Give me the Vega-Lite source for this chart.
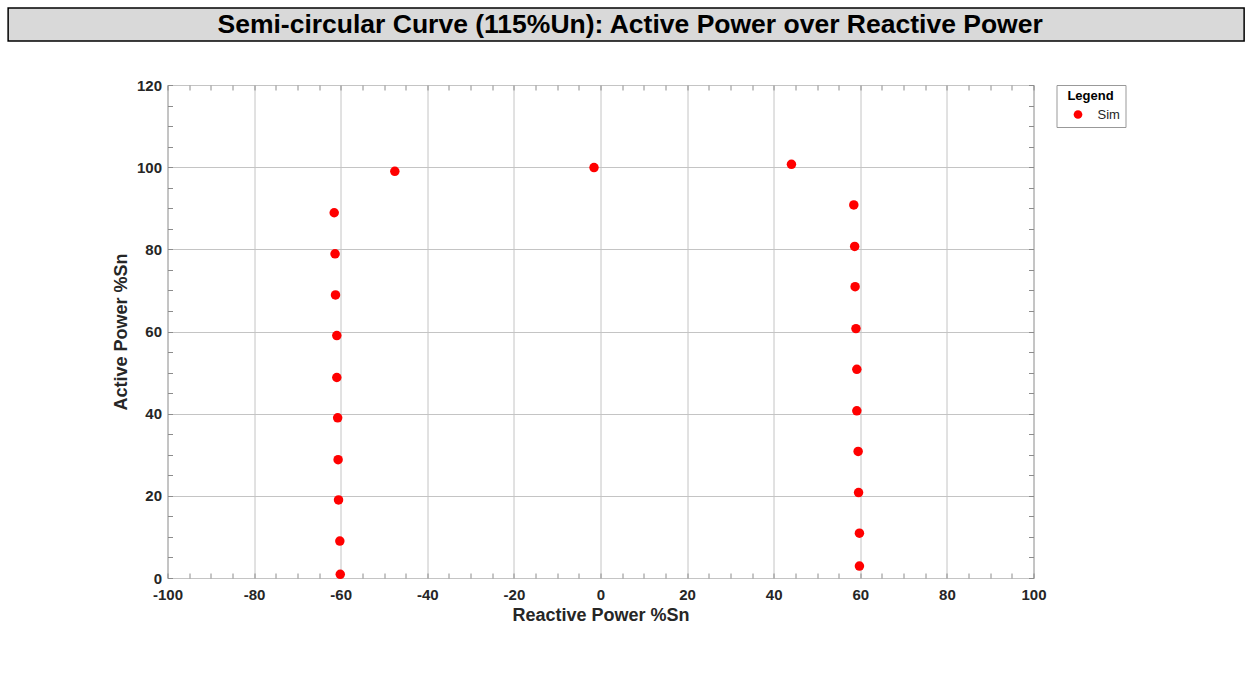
{
  "$schema": "https://vega.github.io/schema/vega-lite/v6.json",
  "padding": {"left": 7, "top": 7, "right": 0, "bottom": 0},
  "background": "white",
  "config": {"font": "Liberation Sans", "view": {"stroke": null}},
  "columns": 1,
  "spacing": 35,
  "center": true,
  "resolve": {"scale": {"color": "independent"}, "legend": {"color": "independent"}},
  "concat": [
    {
      "width": 1236,
      "height": 33,
      "view": {"fill": "#d9d9d9", "stroke": "#000000", "strokeWidth": 1.5},
      "data": {"values": [{"title": "Semi-circular Curve (115%Un): Active Power over Reactive Power"}]},
      "mark": {"type": "text", "font": "Liberation Sans", "fontSize": 26.5, "fontWeight": "bold", "color": "#000000", "baseline": "middle", "align": "center", "dx": 4},
      "encoding": {
        "text": {"field": "title", "type": "nominal"},
        "y": {
          "field": "title", "type": "nominal",
          "axis": {"orient": "right", "title": null, "labels": false, "ticks": false, "domain": false, "grid": false, "minExtent": 41, "maxExtent": 41}
        }
      }
    },
    {
      "width": 866,
      "height": 493,
      "view": {"stroke": "#8c8c8c", "strokeWidth": 1},
      "data": {
        "values": [
          {"q": -61.5, "p": 88.9, "series": "Sim"},
          {"q": -61.3, "p": 78.9, "series": "Sim"},
          {"q": -61.2, "p": 68.9, "series": "Sim"},
          {"q": -60.9, "p": 59.0, "series": "Sim"},
          {"q": -60.9, "p": 48.8, "series": "Sim"},
          {"q": -60.7, "p": 39.0, "series": "Sim"},
          {"q": -60.6, "p": 28.8, "series": "Sim"},
          {"q": -60.5, "p": 19.0, "series": "Sim"},
          {"q": -60.2, "p": 9.0, "series": "Sim"},
          {"q": -60.1, "p": 0.9, "series": "Sim"},
          {"q": -47.5, "p": 99.0, "series": "Sim"},
          {"q": -1.5, "p": 99.9, "series": "Sim"},
          {"q": 44.1, "p": 100.7, "series": "Sim"},
          {"q": 58.5, "p": 90.8, "series": "Sim"},
          {"q": 58.7, "p": 80.7, "series": "Sim"},
          {"q": 58.8, "p": 70.9, "series": "Sim"},
          {"q": 59.0, "p": 60.7, "series": "Sim"},
          {"q": 59.2, "p": 50.8, "series": "Sim"},
          {"q": 59.2, "p": 40.7, "series": "Sim"},
          {"q": 59.5, "p": 30.8, "series": "Sim"},
          {"q": 59.6, "p": 20.8, "series": "Sim"},
          {"q": 59.8, "p": 10.9, "series": "Sim"},
          {"q": 59.8, "p": 2.9, "series": "Sim"}
        ]
      },
      "layer": [
        {
          "mark": {"type": "point", "filled": true, "shape": "circle", "size": 90, "opacity": 1},
          "encoding": {
            "x": {
              "field": "q", "type": "quantitative",
              "scale": {"domain": [-100, 100], "nice": false, "zero": false},
              "axis": {
                "orient": "bottom",
                "title": "Reactive Power %Sn",
                "values": [-100,-95,-90,-85,-80,-75,-70,-65,-60,-55,-50,-45,-40,-35,-30,-25,-20,-15,-10,-5,0,5,10,15,20,25,30,35,40,45,50,55,60,65,70,75,80,85,90,95,100],
                "labelExpr": "datum.value % 20 === 0 ? '' + datum.value : ''",
                "grid": true,
                "gridColor": "#c4c4c4",
                "gridWidth": 1,
                "gridOpacity": {"condition": {"test": "datum.value % 20 === 0", "value": 1}, "value": 0},
                "domain": false,
                "ticks": true,
                "tickSize": -5,
                "tickColor": "#8c8c8c",
                "labelFont": "Liberation Sans",
                "labelFontSize": 15,
                "labelFontWeight": "bold",
                "labelColor": "#262626",
                "labelPadding": 14,
                "labelFlush": false,
                "labelOverlap": false,
                "titleFont": "Liberation Sans",
                "titleFontSize": 18,
                "titleFontWeight": "bold",
                "titleColor": "#262626",
                "titlePadding": 4
              }
            },
            "y": {
              "field": "p", "type": "quantitative",
              "scale": {"domain": [0, 120], "nice": false, "zero": false},
              "axis": {
                "orient": "left",
                "title": "Active Power %Sn",
                "values": [0,5,10,15,20,25,30,35,40,45,50,55,60,65,70,75,80,85,90,95,100,105,110,115,120],
                "labelExpr": "datum.value % 20 === 0 ? '' + datum.value : ''",
                "grid": true,
                "gridColor": "#c4c4c4",
                "gridWidth": 1,
                "gridOpacity": {"condition": {"test": "datum.value % 20 === 0", "value": 1}, "value": 0},
                "domain": false,
                "ticks": true,
                "tickSize": -5,
                "tickColor": "#8c8c8c",
                "labelFont": "Liberation Sans",
                "labelFontSize": 15,
                "labelFontWeight": "bold",
                "labelColor": "#262626",
                "labelPadding": 11,
                "labelFlush": false,
                "labelOverlap": false,
                "minExtent": 30,
                "maxExtent": 200,
                "titleFont": "Liberation Sans",
                "titleFontSize": 18,
                "titleFontWeight": "bold",
                "titleColor": "#262626",
                "titleX": -46,
                "titleY": 246.5,
                "titleAngle": 270,
                "titleAlign": "center",
                "titleBaseline": "middle"
              }
            },
            "color": {
              "field": "series", "type": "nominal",
              "scale": {"range": ["#ff0000"]},
              "legend": {
                "title": "Legend",
                "orient": "right",
                "offset": 22,
                "strokeColor": "#999999",
                "fillColor": "#ffffff",
                "padding": 5,
                "cornerRadius": 0,
                "titleFont": "Liberation Sans",
                "titleFontSize": 13,
                "titleFontWeight": "bold",
                "titleColor": "#000000",
                "titleAnchor": "middle",
                "titlePadding": 5,
                "labelFont": "Liberation Sans",
                "labelFontSize": 13,
                "labelColor": "#262626",
                "labelOffset": 13,
                "symbolOffset": 10,
                "symbolType": "circle",
                "symbolSize": 75,
                "symbolStrokeWidth": 0
              }
            }
          }
        },
        {
          "mark": {"type": "point", "opacity": 0},
          "encoding": {
            "x": {
              "field": "q", "type": "quantitative",
              "axis": {
                "orient": "top",
                "title": null,
                "values": [-100,-95,-90,-85,-80,-75,-70,-65,-60,-55,-50,-45,-40,-35,-30,-25,-20,-15,-10,-5,0,5,10,15,20,25,30,35,40,45,50,55,60,65,70,75,80,85,90,95,100],
                "labels": false,
                "grid": false,
                "domain": false,
                "tickSize": -5,
                "tickColor": "#8c8c8c",
                "minExtent": 0,
                "maxExtent": 0
              }
            },
            "y": {
              "field": "p", "type": "quantitative",
              "axis": {
                "orient": "right",
                "title": null,
                "values": [0,5,10,15,20,25,30,35,40,45,50,55,60,65,70,75,80,85,90,95,100,105,110,115,120],
                "labels": false,
                "grid": false,
                "domain": false,
                "tickSize": -5,
                "tickColor": "#8c8c8c",
                "minExtent": 0,
                "maxExtent": 0
              }
            }
          }
        }
      ],
      "resolve": {"axis": {"x": "independent", "y": "independent"}}
    }
  ]
}
